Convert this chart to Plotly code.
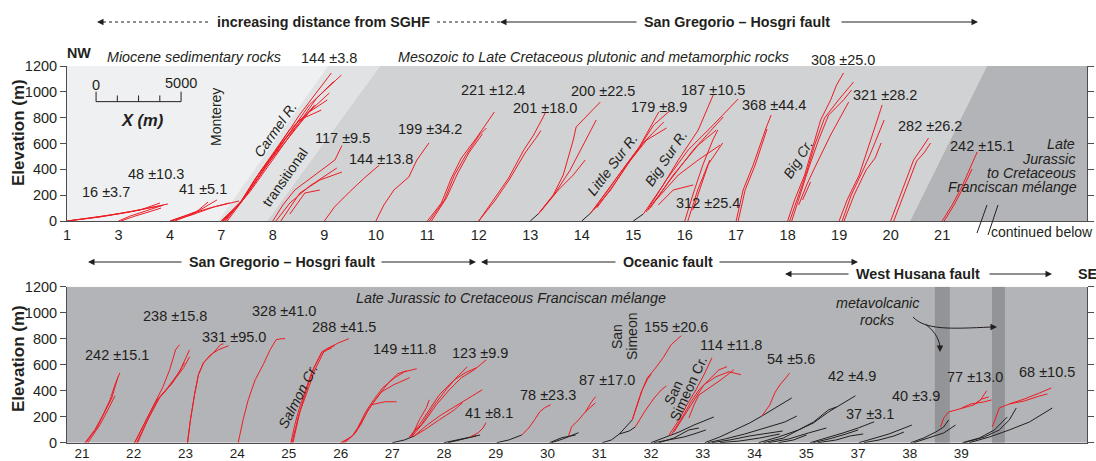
import plotly.graph_objects as go

W, H = 1096, 461
FONT = "Liberation Sans, Arial, Helvetica, sans-serif"
INK = "#231f20"
RED = "#ed1c24"

# ---------------- axes: station ticks (x in metres) ----------------
TOP_TICK_X = [0, 3030, 6060, 9080, 12110, 15140, 18170, 21200, 24220,
              27250, 30280, 33310, 36340, 39360, 42390, 45420, 48450, 51480]
TOP_TICK_TEXT = ["1", "3", "4", "7", "8", "9", "10", "11", "12", "13",
                 "14", "15", "16", "17", "18", "19", "20", "21"]
BOT_TICK_X = [880, 3920, 6970, 10010, 13050, 16100, 19140, 22180, 25220,
              28270, 31310, 34350, 37400, 40440, 43480, 46530, 49570, 52610]
BOT_TICK_TEXT = ["21", "22", "23", "24", "25", "26", "27", "28", "29", "30",
                 "31", "32", "33", "34", "35", "37", "38", "39"]
ELEV_TICKS = [0, 200, 400, 600, 800, 1000, 1200]

# ---------------- river profiles: (distance from station start [m], elevation [m]) ----------------
t01 = [[(0, 0), (1940, 31), (3700, 70), (4880, 101), (5940, 132)],
       [(0, 0), (2530, 46), (4290, 85), (5470, 139)],
       [(0, 0), (1500, 25), (3200, 60), (4500, 95), (5600, 120)]]
t03 = [[(0, 0), (700, 39), (1590, 77), (2650, 124)],
       [(150, 0), (900, 35), (1900, 75), (2500, 100)]]
t04 = [[(0, 0), (880, 39), (1760, 85), (2760, 163)],
       [(0, 0), (1180, 54), (2350, 101), (4060, 155)],
       [(290, 0), (1470, 62), (2240, 147)],
       [(100, 0), (1300, 48), (2600, 110), (3500, 140)]]
t07 = [[(0, 0), (820, 101), (1350, 178), (2820, 472), (4590, 820), (6470, 1146)],
       [(0, 0), (940, 108), (1470, 201), (3120, 511), (5170, 898), (7060, 1130)],
       [(180, 0), (1060, 132), (1940, 317), (4000, 705), (6350, 991)],
       [(0, 0), (1240, 163), (2350, 395), (4590, 782), (5880, 859)],
       [(350, 0), (1350, 178), (2820, 457), (5170, 844), (6230, 937)],
       [(100, 0), (1000, 120), (1700, 230), (3500, 560), (5600, 950), (6600, 1080)],
       [(250, 0), (1150, 150), (2100, 345), (3800, 640), (5500, 900)]]
t08 = [[(0, 0), (590, 124), (1290, 240), (2470, 356), (3650, 472), (4060, 584)],
       [(180, 0), (1000, 139), (2170, 271), (3760, 410)],
       [(470, 0), (1590, 217), (2760, 317), (4060, 379)],
       [(1000, 54), (1590, 163), (1880, 217), (2760, 240)]]
t09 = [[(0, 0), (590, 108), (1470, 224), (2350, 333), (3230, 433)]]
t10 = [[(0, 0), (470, 124), (1060, 240), (1940, 341), (2410, 472), (3120, 604)]]
t11 = [[(0, 0), (820, 139), (1410, 333), (2000, 488), (2880, 642), (3940, 844)],
       [(120, 0), (1000, 163), (1590, 356), (2230, 503), (3060, 666), (3470, 720)],
       [(240, 0), (1120, 178), (1760, 364), (2470, 534), (3230, 673)]]
t12 = [[(0, 0), (880, 163), (1760, 333), (2650, 550), (3230, 666), (3700, 782), (3940, 844)],
       [(0, 0), (940, 155), (1820, 325), (2760, 534), (3410, 650), (3650, 700)]]
t13k = [[(0, 0), (290, 31), (530, 62)]]
t13 = [[(470, 54), (1350, 201), (1940, 356), (2530, 627), (2700, 728), (4120, 921)],
       [(470, 54), (1470, 217), (2350, 395), (3120, 588), (3880, 782)],
       [(590, 70), (1650, 240), (2530, 356), (3230, 472)]]
t14k = [[(0, 0), (530, 62)]]
t14 = [[(530, 62), (1290, 201), (2170, 356), (3350, 565), (3940, 704), (4530, 844)],
       [(530, 62), (1470, 224), (2470, 410), (3470, 588), (4230, 743), (5230, 859)],
       [(700, 85), (1700, 240), (2650, 433), (3650, 611), (4820, 766)],
       [(880, 101), (1880, 279), (2880, 472), (3820, 627), (4990, 720)]]
t15k = [[(0, 0), (590, 54)]]
t15 = [[(590, 54), (1760, 279), (2650, 472), (3820, 704), (4700, 975)],
       [(760, 70), (1940, 317), (3230, 550), (4700, 743), (6170, 945)],
       [(880, 85), (2170, 317), (3530, 550), (5290, 805)],
       [(1000, 101), (2350, 356), (3820, 588), (4880, 704)],
       [(1180, 139), (2650, 356), (3820, 472), (5110, 588)],
       [(1470, 124), (2350, 240), (3530, 279)]]
t16 = [[(0, 0), (470, 201), (1060, 433), (1650, 627), (1940, 704)],
       [(180, 0), (760, 240), (1350, 433), (2230, 604)],
       [(470, 85), (1060, 317), (1470, 472)]]
t17 = [[(0, 0), (410, 240), (1000, 433), (1590, 666), (1760, 720), (2060, 820)],
       [(120, 0), (530, 240), (1120, 433), (1650, 650), (1820, 712)]]
t18 = [[(0, 0), (410, 163), (1000, 356), (1410, 550), (1940, 782), (2530, 937), (2880, 1053), (3290, 1146)],
       [(120, 0), (590, 178), (1120, 379), (1590, 588), (2170, 797), (2990, 937), (3880, 1076)],
       [(240, 0), (710, 201), (1240, 410), (1820, 627), (2410, 820), (3290, 937), (3760, 1014)],
       [(650, 124), (1120, 279), (1530, 395), (1940, 511), (2530, 666), (3590, 921)],
       [(880, 163), (1120, 240), (1350, 302)]]
t19 = [[(0, 0), (470, 163), (1180, 356), (1650, 550), (2120, 743), (2530, 898)],
       [(180, 0), (710, 201), (1410, 395), (1880, 534), (2650, 782)],
       [(290, 0), (880, 201), (1590, 395), (2120, 488), (2470, 604)]]
t20 = [[(0, 0), (470, 163), (1060, 356), (1350, 472), (1760, 550), (2230, 642)],
       [(180, 0), (650, 163), (1240, 356), (1530, 464), (2000, 534), (2350, 604)]]
t21 = [[(0, 0), (590, 124), (1180, 271), (1650, 410), (2060, 534)],
       [(120, 0), (700, 124), (1290, 271), (1760, 403)]]

b21 = [[(180, 0), (760, 100), (1240, 215), (1650, 330), (1940, 446), (2230, 538)],
       [(240, 0), (880, 115), (1350, 238), (1760, 346), (2120, 507)],
       [(350, 0), (1060, 138), (1530, 254), (1940, 361)]]
b22 = [[(60, 0), (590, 138), (1180, 292), (1700, 423), (2120, 561), (2470, 715), (2700, 754)],
       [(60, 0), (650, 154), (1290, 315), (2000, 423), (2700, 546), (3290, 715)],
       [(180, 0), (760, 161), (1410, 330), (2180, 446), (2940, 577), (3290, 661)],
       [(240, 0), (820, 177), (1530, 346), (2290, 461), (2990, 615)]]
b23 = [[(120, 0), (290, 174), (530, 369), (760, 523), (1060, 615), (1470, 677), (1940, 715), (2530, 746)],
       [(120, 0), (290, 174), (530, 369), (760, 523), (1060, 615), (1590, 684), (2060, 754), (2230, 761)]]
b24 = [[(60, 0), (350, 177), (650, 330), (1060, 484), (1530, 600), (1940, 715), (2290, 792), (2590, 800), (2820, 800)]]
b25 = [[(120, 0), (350, 138), (590, 254), (940, 392), (1290, 523), (1650, 623), (1940, 700), (2470, 738), (2940, 769), (3530, 800)],
       [(180, 0), (590, 215), (1000, 392), (1470, 577), (1880, 677), (2230, 723), (2700, 746)],
       [(240, 0), (650, 238), (1120, 407), (1530, 561), (2060, 700), (2530, 730)]]
b26 = [[(0, 0), (650, 46), (1000, 115), (1470, 238), (1940, 330), (2470, 423), (3180, 500), (3760, 546), (4470, 569)],
       [(120, 0), (760, 61), (1180, 138), (1590, 246), (2170, 354), (2760, 454), (3350, 530), (3880, 554)],
       [(240, 0), (880, 77), (1290, 177), (1820, 292), (2410, 392), (3120, 446), (4060, 500)],
       [(1820, 292), (2590, 315), (3290, 315)]]
b27k = [[(0, 0), (710, 21), (1290, 52)]]
b27 = [[(1000, 44), (1590, 138), (2170, 253), (2760, 369), (3350, 446), (3940, 523), (4410, 584)],
       [(1000, 44), (1700, 138), (2350, 269), (3060, 392), (3650, 484), (4290, 538), (4940, 577)],
       [(1120, 44), (1880, 161), (2590, 292), (3350, 407), (4060, 500), (4820, 561), (5530, 638)],
       [(1290, 52), (2060, 138), (2880, 215), (3650, 276), (4530, 346), (5290, 407)],
       [(1290, 52), (1880, 98), (2760, 176), (3650, 253), (4120, 307)],
       [(1120, 44), (1590, 177), (2000, 269), (2170, 330)]]
b28k = [[(0, 0), (820, 21), (1530, 44), (2120, 59)],
        [(240, 0), (940, 21), (1880, 52)]]
b28 = [[(1530, 44), (2000, 75), (2290, 113), (2470, 154)]]
b29k = [[(60, 0), (760, 21), (1530, 59)]]
b29 = [[(1530, 59), (1940, 113), (2290, 177), (2590, 238), (2880, 269), (3230, 292)]]
b30k = [[(120, 0), (820, 38), (1650, 59)],
        [(240, 0), (940, 31), (1820, 77)]]
b30 = [[(1230, 52), (1410, 121), (1820, 175), (2230, 238), (2590, 315), (2820, 354)],
       [(2230, 238), (2700, 292), (2820, 307)]]
b31k = [[(180, 0), (710, 21), (1180, 67), (1650, 129), (1940, 175)],
        [(1180, 67), (1760, 90), (2120, 121)]]
b31 = [[(1940, 175), (2230, 290), (2530, 406), (2820, 498), (3230, 561), (3760, 654), (4230, 754), (4820, 823)],
       [(1940, 175), (2170, 267), (2470, 390), (2820, 483), (3060, 530)],
       [(2120, 121), (2650, 236), (3230, 344), (3650, 406), (3940, 437)]]
b32k = [[(0, 0), (760, 36), (1650, 82), (2530, 136), (3700, 198)],
        [(180, 0), (1060, 21), (1940, 44), (2530, 67), (3230, 98)],
        [(470, 0), (1350, 36), (2230, 98), (2820, 113)]]
b32 = [[(1060, 59), (1650, 175), (2120, 292), (2650, 407), (3120, 523), (3590, 654)],
       [(1180, 59), (1820, 190), (2350, 313), (2820, 406), (3410, 484), (4000, 561), (4470, 584)],
       [(1350, 82), (2000, 213), (2530, 330), (3120, 446), (3820, 507), (4590, 546), (5290, 523)],
       [(2230, 190), (2530, 290), (2820, 367), (3410, 421), (4120, 484), (4880, 561)]]
b33k = [[(120, 0), (1000, 44), (1880, 98), (2760, 152), (3470, 205), (4230, 267), (5230, 344)],
        [(290, 0), (1290, 28), (2470, 67), (3650, 113), (4820, 159), (5530, 205)],
        [(530, 0), (1590, 21), (2760, 52), (3940, 75), (4700, 90)],
        [(1000, 0), (2170, 13), (3350, 36), (4530, 67)]]
b33 = [[(3470, 205), (3940, 290), (4230, 382), (4530, 444), (4880, 498), (5110, 536)]]
b34k = [[(240, 0), (1410, 44), (2590, 98), (3470, 152), (4350, 236), (5230, 306), (5940, 361)],
        [(530, 0), (1700, 36), (2590, 98), (3470, 159), (4350, 252), (4820, 275)],
        [(820, 0), (2000, 28), (3180, 75), (4230, 113)],
        [(1410, 0), (2290, 21), (3060, 59)]]
b35k = [[(240, 0), (1290, 38), (2170, 75), (3060, 113), (4000, 161)],
        [(410, 0), (1410, 31), (2350, 67), (3060, 98)],
        [(700, 0), (1760, 21), (2590, 52), (3350, 67)]]
b37k = [[(60, 0), (940, 31), (1820, 67), (3170, 136)],
        [(350, 0), (1230, 21), (2120, 52), (2700, 82)]]
b38k = [[(60, 0), (820, 36), (1530, 82), (2000, 121), (2290, 175)],
        [(240, 0), (1120, 36), (2000, 75), (2700, 136)]]
b38 = [[(1820, 121), (2000, 190), (2290, 236), (3060, 267), (3760, 290), (4170, 330), (4530, 400)],
       [(3760, 290), (4230, 336), (4650, 352)],
       [(3060, 267), (3590, 298), (4350, 313), (4820, 329)]]
b39k = [[(60, 0), (1060, 36), (1940, 98), (2700, 198)],
        [(180, 0), (1350, 44), (2230, 98), (2820, 175), (3230, 267)],
        [(470, 0), (1650, 44), (2820, 98), (4000, 159), (5350, 267)]]
b39 = [[(1820, 121), (2060, 198), (2230, 267), (2820, 298), (3700, 336), (4590, 382), (5290, 421)],
       [(2820, 298), (3700, 321), (4590, 359), (5060, 375)]]

# (station, red profiles, black profiles)
TOP_PROFILES = [("1", t01, []), ("3", t03, []), ("4", t04, []), ("7", t07, []),
                ("8", t08, []), ("9", t09, []), ("10", t10, []), ("11", t11, []),
                ("12", t12, []), ("13", t13, t13k), ("14", t14, t14k), ("15", t15, t15k),
                ("16", t16, []), ("17", t17, []), ("18", t18, []), ("19", t19, []),
                ("20", t20, []), ("21", t21, [])]
BOT_PROFILES = [("21", b21, []), ("22", b22, []), ("23", b23, []), ("24", b24, []),
                ("25", b25, []), ("26", b26, []), ("27", b27, b27k), ("28", b28, b28k),
                ("29", b29, b29k), ("30", b30, b30k), ("31", b31, b31k), ("32", b32, b32k),
                ("33", b33, b33k), ("34", [], b34k), ("35", [], b35k), ("37", [], b37k),
                ("38", b38, b38k), ("39", b39, b39k)]

# incision-rate labels
TOP_RATES = ["16 ±3.7", "48 ±10.3", "41 ±5.1", "144 ±3.8", "117 ±9.5", "144 ±13.8",
             "199 ±34.2", "221 ±12.4", "201 ±18.0", "200 ±22.5", "179 ±8.9", "187 ±10.5",
             "368 ±44.4", "312 ±25.4", "308 ±25.0", "321 ±28.2", "282 ±26.2", "242 ±15.1"]
BOT_RATES = ["242 ±15.1", "238 ±15.8", "331 ±95.0", "328 ±41.0", "288 ±41.5", "149 ±11.8",
             "123 ±9.9", "41 ±8.1", "78 ±23.3", "87 ±17.0", "155 ±20.6", "114 ±11.8",
             "54 ±5.6", "42 ±4.9", "37 ±3.1", "40 ±3.9", "77 ±13.0", "68 ±10.5"]

# geology backgrounds (x m, elevation m)
MIOCENE = [(0, 0), (8880, 0), (15350, 1200), (0, 1200)]
TRANSITIONAL = [(8880, 0), (11760, 0), (18410, 1200), (15350, 1200)]
MESOZOIC = [(11760, 0), (49590, 0), (54110, 1200), (18410, 1200)]
FRANCISCAN_TOP = [(49590, 0), (60000, 0), (60000, 1200), (54110, 1200)]
FRANCISCAN_BOT = [(0, 0), (60000, 0), (60000, 1200), (0, 1200)]
METAVOLCANIC = [(51050, 51930), (54410, 55170)]
X_RANGE = [0, 60000]


def P(px, py):
    return px / W, 1 - py / H


def build_lines(profiles, ticks_x, ticks_text):
    start = dict(zip(ticks_text, ticks_x))
    out = {"red": ([], []), "blk": ([], [])}
    for station, red, blk in profiles:
        x0 = start[station]
        for key, lines in (("red", red), ("blk", blk)):
            xs, ys = out[key]
            for line in lines:
                xs.extend([x0 + d for d, _ in line] + [None])
                ys.extend([z for _, z in line] + [None])
    return out


fig = go.Figure()

for prof, tx, tt, xa, ya in ((TOP_PROFILES, TOP_TICK_X, TOP_TICK_TEXT, "x", "y"),
                              (BOT_PROFILES, BOT_TICK_X, BOT_TICK_TEXT, "x2", "y2")):
    d = build_lines(prof, tx, tt)
    for key, col in (("blk", INK), ("red", RED)):
        xs, ys = d[key]
        fig.add_trace(go.Scatter(x=xs, y=ys, mode="lines", xaxis=xa, yaxis=ya,
                                 line=dict(color=col, width=1), hoverinfo="skip",
                                 showlegend=False, connectgaps=False))

shapes = []


def poly(pts, color, xr, yr):
    path = "M " + " L ".join(f"{x},{y}" for x, y in pts) + " Z"
    shapes.append(dict(type="path", path=path, xref=xr, yref=yr, fillcolor=color,
                       line=dict(width=0), layer="below"))


poly(MIOCENE, "#eff0f1", "x", "y")
poly(TRANSITIONAL, "#e1e2e4", "x", "y")
poly(MESOZOIC, "#d1d2d4", "x", "y")
poly(FRANCISCAN_TOP, "#b3b4b7", "x", "y")
poly(FRANCISCAN_BOT, "#b3b4b7", "x2", "y2")
for a, b in METAVOLCANIC:
    poly([(a, 0), (b, 0), (b, 1200), (a, 1200)], "#929497", "x2", "y2")

# scale bar (5000 m)
SB_X0, SB_Y = 1710, 924
shapes.append(dict(type="line", xref="x", yref="y", x0=SB_X0, x1=SB_X0 + 5000,
                   y0=SB_Y, y1=SB_Y, line=dict(color=INK, width=1)))
for i in range(5):
    top = 1001 if i in (0, 4) else 972
    xx = SB_X0 + 1250 * i
    shapes.append(dict(type="line", xref="x", yref="y", x0=xx, x1=xx, y0=SB_Y, y1=top,
                       line=dict(color=INK, width=1)))


def pline(x0, y0, x1, y1, dash="solid"):
    a, b = P(x0, y0)
    c, d = P(x1, y1)
    shapes.append(dict(type="line", xref="paper", yref="paper", x0=a, y0=b, x1=c, y1=d,
                       line=dict(color=INK, width=1, dash=dash)))


# dotted "increasing distance" arrow
pline(103, 22, 210, 22, "dot")
pline(437, 22, 500, 22, "dot")
# break marks
pline(977, 233, 987, 205)
pline(988, 235, 998, 205)


# curved arrows to metavolcanic bands
def pcurve(pts):
    q = [P(x, y) for x, y in pts]
    path = f"M {q[0][0]},{q[0][1]} C {q[1][0]},{q[1][1]} {q[2][0]},{q[2][1]} {q[3][0]},{q[3][1]}"
    shapes.append(dict(type="path", path=path, xref="paper", yref="paper",
                       line=dict(color=INK, width=1)))


pcurve([(913, 317), (925, 330), (950, 329), (991, 327)])
pcurve([(925, 324), (933, 330), (938, 336), (940, 346)])

ann = []


def text(px, py, s, size=14.5, angle=0, xanchor="center"):
    x, y = P(px, py)
    ann.append(dict(x=x, y=y, xref="paper", yref="paper", text=s, showarrow=False,
                    font=dict(family=FONT, size=size, color=INK), textangle=angle,
                    xanchor=xanchor, yanchor="middle"))


def arrow(hx, hy, tx, ty):
    x, y = P(hx, hy)
    ann.append(dict(x=x, y=y, xref="paper", yref="paper", text="", showarrow=True,
                    ax=tx - hx, ay=ty - hy, axref="pixel", ayref="pixel",
                    arrowhead=2, arrowsize=1.3, arrowwidth=1, arrowcolor=INK, standoff=0))


HB = 14.3   # header size
IT = 14.3   # italic geology names

# header rows
arrow(97, 22, 105, 22)
text(323, 22, "<b>increasing distance from SGHF</b>", HB)
arrow(500, 22, 638, 22)
text(737, 22, "<b>San Gregorio – Hosgri fault</b>", HB)
arrow(978, 22, 840, 22)

arrow(88, 262, 183, 262)
text(282, 262, "<b>San Gregorio – Hosgri fault</b>", HB)
arrow(476, 262, 380, 262)
arrow(481, 262, 617, 262)
text(668, 262, "<b>Oceanic fault</b>", HB)
arrow(858, 262, 718, 262)
arrow(785, 274, 850, 274)
text(918, 274, "<b>West Husana fault</b>", HB)
arrow(1052, 274, 988, 274)
text(1087, 274, "<b>SE</b>", HB)
text(79, 53, "<b>NW</b>", HB)

# geology names
text(194, 57, "<i>Miocene sedimentary rocks</i>", IT)
text(593, 57, "<i>Mesozoic to Late Cretaceous plutonic and metamorphic rocks</i>", IT)
text(1077, 144, "<i>Late</i>", IT, xanchor="right")
text(1077, 159, "<i>Jurassic</i>", IT, xanchor="right")
text(1078, 173, "<i>to Cretaceous</i>", IT, xanchor="right")
text(1079, 187, "<i>Franciscan mélange</i>", IT, xanchor="right")
text(511, 298, "<i>Late Jurassic to Cretaceous Franciscan mélange</i>", IT)
text(877, 303, "<i>metavolcanic</i>", IT)
text(877, 320, "<i>rocks</i>", IT)
arrow(997, 327, 990, 327)
arrow(940, 352, 940, 345)
text(1042, 232, "continued below", 14)

# river names
text(216, 117, "Monterey", 14, angle=-90)
text(275, 130, "<i>Carmel R.</i>", 14, angle=-55)
text(285, 177, "transitional", 14, angle=-55)
text(612, 165, "<i>Little Sur R.</i>", 14, angle=-53)
text(666, 158, "<i>Big Sur R.</i>", 14, angle=-56)
text(798, 159, "<i>Big Cr.</i>", 14, angle=-58)
text(298, 396, "<i>Salmon Cr.</i>", 14, angle=-63)
text(617, 337, "San", 14, angle=-90)
text(632, 337, "Simeon", 14, angle=-90)
text(673, 393, "San", 14, angle=-65)
text(688, 389, "Simeon Cr.", 14, angle=-65)

# scale bar labels
text(96, 85, "0")
text(181, 83, "5000")
text(142, 120, "<b><i>X (m)</i></b>", size=16.5)

# y titles
text(18, 133, "<b>Elevation (m)</b>", size=17, angle=-90)
text(18, 359, "<b>Elevation (m)</b>", size=17, angle=-90)

TOP_RATE_POS = [(106, 192), (156, 174), (203, 189), (329, 58), (342, 138), (381, 159),
                (430, 129), (493, 90), (545, 108), (603, 91), (659, 107), (713, 90),
                (774, 105), (708, 203), (843, 60), (885, 95), (930, 126), (982, 146)]
BOT_RATE_POS = [(117, 355), (175, 316), (234, 337), (284, 311), (344, 327), (404, 349),
                (480, 353), (489, 413), (548, 395), (607, 380), (676, 327), (731, 345),
                (791, 359), (852, 376), (870, 414), (916, 396), (975, 377), (1047, 372)]
for s, (px, py) in zip(TOP_RATES, TOP_RATE_POS):
    text(px, py, s)
for s, (px, py) in zip(BOT_RATES, BOT_RATE_POS):
    text(px, py, s)

XD = [67 / W, 1087 / W]
xcommon = dict(range=X_RANGE, showgrid=False, zeroline=False, showline=True,
               linecolor="#4d4d4f", linewidth=1,
               tickfont=dict(family=FONT, size=14.5, color=INK),
               domain=XD, fixedrange=True, automargin=False)
ycommon = dict(range=[0, 1200], tickvals=ELEV_TICKS, showgrid=False, zeroline=False,
               showline=True, mirror="ticks", linecolor="#4d4d4f", linewidth=1,
               ticks="outside", ticklen=6, tickcolor="#4d4d4f",
               tickfont=dict(family=FONT, size=14.5, color=INK), fixedrange=True,
               automargin=False)

fig.update_layout(
    width=W, height=H, autosize=False,
    margin=dict(l=0, r=0, t=0, b=0, pad=0),
    paper_bgcolor="white", plot_bgcolor="white",
    showlegend=False,
    xaxis=dict(**xcommon, tickvals=TOP_TICK_X, ticktext=TOP_TICK_TEXT, anchor="y",
               ticks="outside", ticklen=1, tickcolor="rgba(0,0,0,0)"),
    yaxis=dict(**ycommon, domain=[1 - 221 / H, 1 - 66 / H], anchor="x"),
    xaxis2=dict(**xcommon, tickvals=BOT_TICK_X, ticktext=BOT_TICK_TEXT, anchor="y2",
                ticks="", tickfont_size=13.5, ticklabelstandoff=-2),
    yaxis2=dict(**ycommon, domain=[1 - 442.7 / H, 1 - 286.7 / H], anchor="x2"),
    shapes=shapes,
    annotations=ann,
    font=dict(family=FONT, color=INK),
)

fig.write_html("out.html")
